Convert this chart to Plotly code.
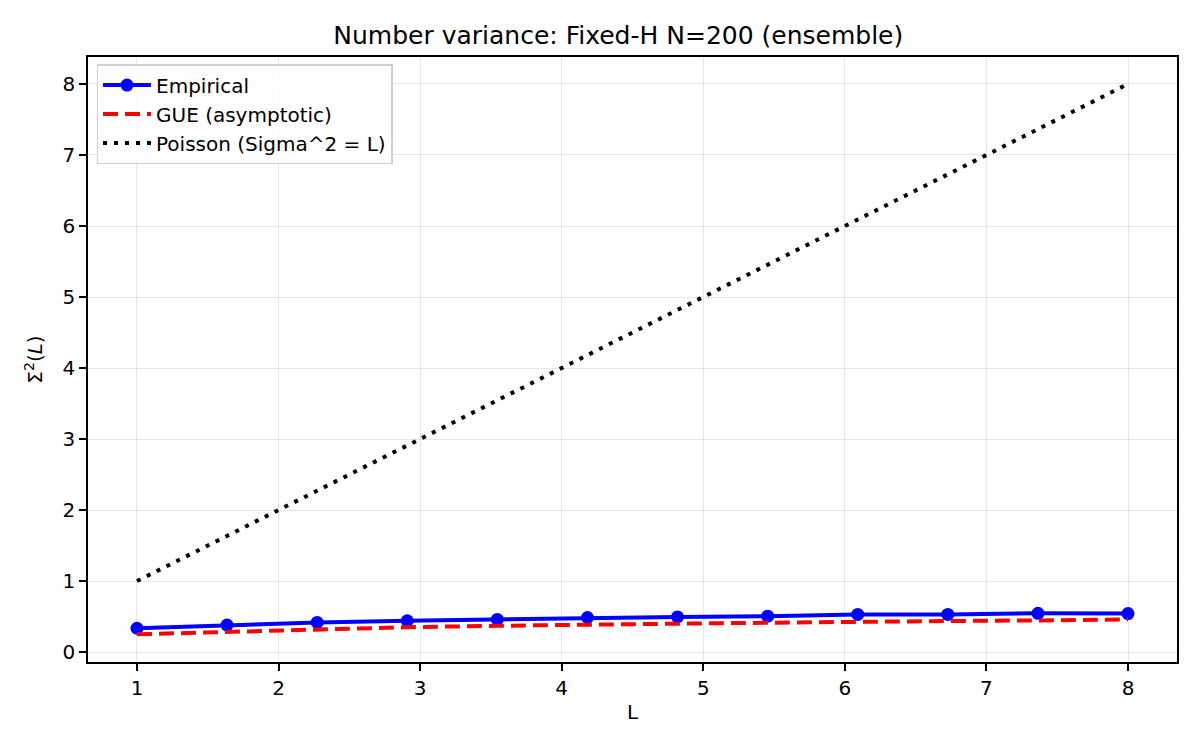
import plotly.graph_objects as go

# L values (12 points from 1 to 8)
L_vals = [1.0, 1.636, 2.273, 2.909, 3.545, 4.182, 4.818, 5.455, 6.091, 6.727, 7.364, 8.0]
empirical = [0.335, 0.38, 0.418, 0.44, 0.46, 0.487, 0.495, 0.505, 0.53, 0.53, 0.545, 0.542]
gue = [0.25, 0.286, 0.32, 0.35, 0.37, 0.39, 0.40, 0.413, 0.43, 0.437, 0.446, 0.46]
poisson = [1.0, 1.636, 2.273, 2.909, 3.545, 4.182, 4.818, 5.455, 6.091, 6.727, 7.364, 8.0]

FONT = "DejaVu Sans"

fig = go.Figure()
fig.add_trace(go.Scatter(x=L_vals, y=empirical, name="Empirical", mode="lines+markers",
                         line=dict(color="#0000ff", width=4),
                         marker=dict(color="#0000ff", size=13)))
fig.add_trace(go.Scatter(x=L_vals, y=gue, name="GUE (asymptotic)", mode="lines",
                         line=dict(color="#ff0000", width=4, dash="15px,7px")))
fig.add_trace(go.Scatter(x=L_vals, y=poisson, name="Poisson (Sigma^2 = L)", mode="lines",
                         line=dict(color="#000000", width=4, dash="4px,7px")))

axis_common = dict(
    showline=True, linecolor="black", linewidth=1.6, mirror=True,
    ticks="outside", ticklen=7, tickwidth=1.6, tickcolor="black",
    showgrid=True, gridcolor="rgba(176,176,176,0.3)", gridwidth=1.3,
    zeroline=False, tickfont=dict(family=FONT, size=20, color="black"),
)

fig.update_xaxes(range=[0.654, 8.346], tickvals=[1, 2, 3, 4, 5, 6, 7, 8],
                 title=dict(text="L", font=dict(family=FONT, size=20, color="black"), standoff=6),
                 **axis_common)
fig.update_yaxes(range=[-0.14, 8.38], tickvals=[0, 1, 2, 3, 4, 5, 6, 7, 8],
                 title=dict(text="Σ<sup>2</sup>(<i>L</i>)", font=dict(family=FONT, size=20, color="black"), standoff=14),
                 **axis_common)

# page puts the plot at an 8px offset, so shrink and shift to line up with the reference
fig.update_layout(
    width=1192, height=742,
    margin=dict(l=80, r=23, t=49, b=88),
    paper_bgcolor="white", plot_bgcolor="white",
    title=dict(text="Number variance: Fixed-H N=200 (ensemble)", x=0.512, xanchor="center",
               y=0.963, yanchor="middle", font=dict(family=FONT, size=25, color="black")),
    legend=dict(x=0.008, y=0.988, xanchor="left", yanchor="top",
                bgcolor="rgba(255,255,255,0.8)", bordercolor="#d0d0d0", borderwidth=1.3,
                font=dict(family=FONT, size=20, color="black"), tracegroupgap=0,
                itemwidth=48),
    showlegend=True,
)

fig.write_html("out.html")
